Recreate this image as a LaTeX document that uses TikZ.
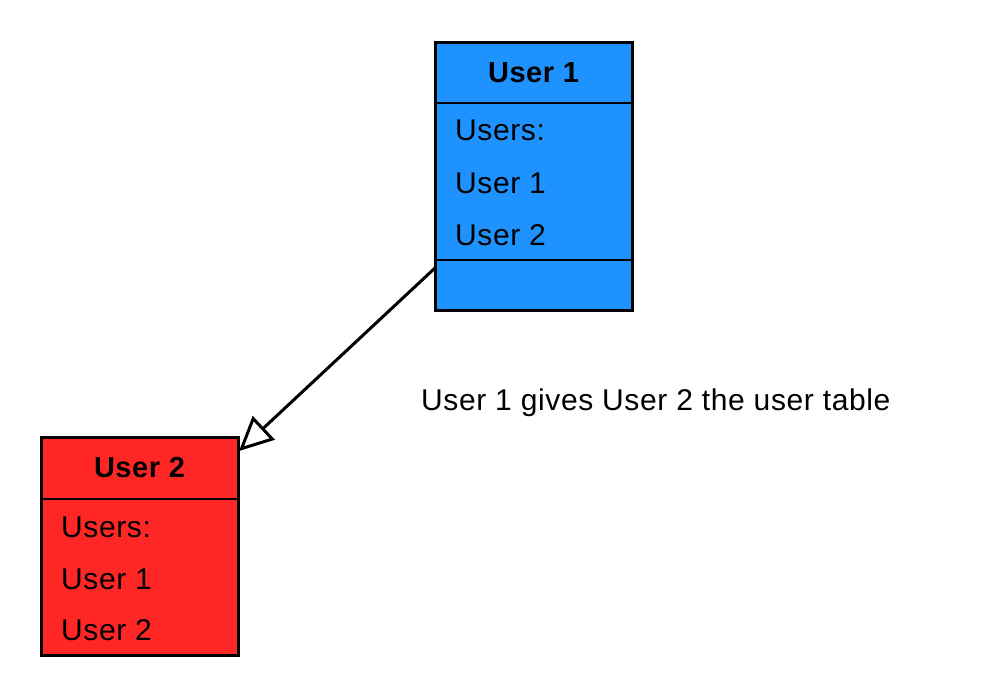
\documentclass[tikz,border=0pt]{standalone}
\usepackage{fontspec}
\setmainfont[LetterSpace=2]{Liberation Sans}
\usetikzlibrary{arrows.meta}
\definecolor{userblue}{RGB}{30,146,255}
\definecolor{userred}{RGB}{255,38,38}
\tikzset{
	box/.style={draw,line width=3pt,inner sep=0pt,minimum width=197pt},
	title/.style={font=\fontsize{29}{33}\selectfont\bfseries},
	entry/.style={anchor=west,font=\fontsize{30}{34}\selectfont,inner sep=0pt},
	divider/.style={line width=1.2pt},
	gives/.style={line width=3pt,-{Triangle[open,length=34pt,width=32pt]}}
}
\begin{document}
\begin{tikzpicture}[x=1pt,y=-1pt]
	\useasboundingbox (0,0) rectangle (990,696);

	% user 1
	\node[box,fill=userblue,minimum height=268pt] (u1) at (533.5,176) {};
	\draw[divider] (435,103) -- (632,103);
	\draw[divider] (435,260) -- (632,260);
	\node[title] (u1t) at (533.5,73) {User 1};
	\node[entry] (u1a) at (455,130) {Users:};
	\node[entry] (u1b) at (455,183) {User 1};
	\node[entry] (u1c) at (455,235) {User 2};

	% user 2
	\node[box,fill=userred,minimum height=218pt] (u2) at (139.5,546) {};
	\draw[divider] (41,499) -- (238,499);
	\node[title] (u2t) at (139.5,468) {User 2};
	\node[entry] (u2a) at (61,527) {Users:};
	\node[entry] (u2b) at (61,579) {User 1};
	\node[entry] (u2c) at (61,630) {User 2};

	% arrow
	\coordinate (from) at (435,268);
	\coordinate (to) at (239,451);
	\draw[gives] (from) -- (to);

	\node[entry] (note) at (421,403) {User 1 gives User 2 the user table};
\end{tikzpicture}
\end{document}
